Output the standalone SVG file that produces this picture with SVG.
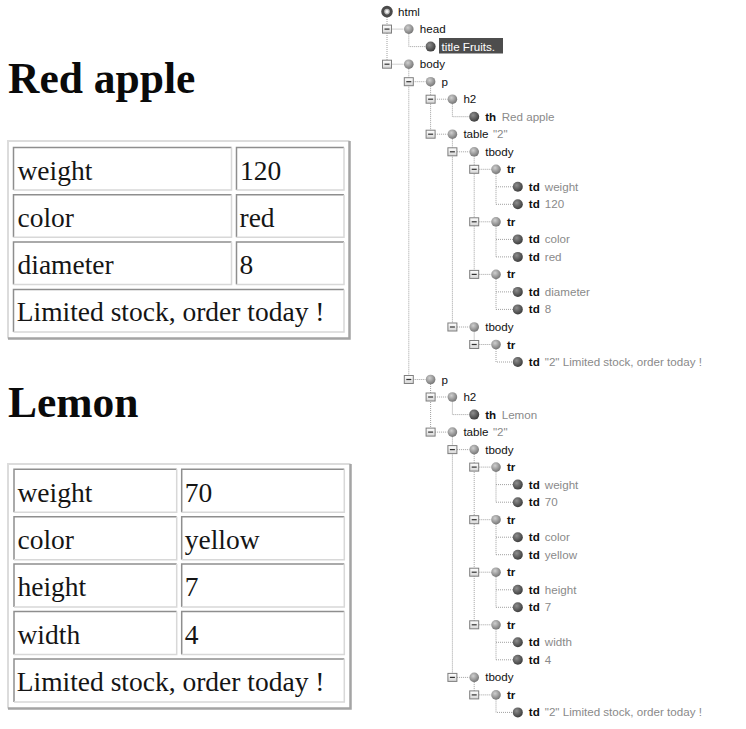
<svg xmlns="http://www.w3.org/2000/svg" xmlns:xlink="http://www.w3.org/1999/xlink" width="746" height="729" viewBox="0 0 746 729">
  <style>
    .tag { font-family: "Liberation Sans", Arial, sans-serif; font-size: 11.6px; fill: #111; }
    .b { font-weight: bold; }
    .val { fill: #8a8a8a; font-weight: normal; }
    .sel { fill: #ffffff; }
    .hd { font-family: "Liberation Serif", "Times New Roman", serif; font-weight: bold; font-size: 43.5px; fill: #0a0a0a; }
    .cell { font-family: "Liberation Serif", "Times New Roman", serif; font-size: 27.5px; fill: #151515; }
    .dk { fill: none; stroke: #8e8e8e; stroke-width: 1.5; }
    .lt { fill: none; stroke: #d8d8d8; stroke-width: 1.5; }
    .olt { fill: none; stroke: #dcdcdc; stroke-width: 2; }
    .odk { fill: none; stroke: #a4a4a4; stroke-width: 2.5; }
    .conn { fill: none; stroke: #a0a0a0; stroke-width: 1; stroke-dasharray: 1 1; }
  </style>
  <defs>
    <radialGradient id="gLeaf" cx="0.38" cy="0.35" r="0.7">
      <stop offset="0" stop-color="#8e8e8e"/>
      <stop offset="1" stop-color="#383838"/>
    </radialGradient>
    <radialGradient id="gNode" cx="0.4" cy="0.35" r="0.7">
      <stop offset="0" stop-color="#cfcfcf"/>
      <stop offset="1" stop-color="#707070"/>
    </radialGradient>
    <linearGradient id="gBox" x1="0" y1="0" x2="0" y2="1">
      <stop offset="0" stop-color="#ffffff"/>
      <stop offset="1" stop-color="#d6d6d6"/>
    </linearGradient>
    <g id="leaf"><circle r="5" fill="url(#gLeaf)"/></g>
    <g id="node"><circle r="4.8" fill="url(#gNode)"/></g>
    <g id="root">
      <circle r="4.3" fill="#bdbdbd" stroke="#4a4a4a" stroke-width="3"/>
      <circle r="1.5" fill="#f4f4f4"/>
    </g>
    <g id="minus">
      <rect x="-4.5" y="-4" width="9" height="8" fill="url(#gBox)" stroke="#7e7e7e" stroke-width="1"/>
      <line x1="-2.5" y1="0" x2="2.5" y2="0" stroke="#333" stroke-width="1.2"/>
    </g>
  </defs>

  <rect width="746" height="729" fill="#ffffff"/>

  <!-- Rendered page: first fruit -->
  <g id="page-apple">
    <text class="hd" x="8" y="93.3">Red apple</text>
    <g id="table-apple">
      <path class="olt" d="M8 338.5 V141 H349.5"/>
      <path class="odk" d="M349.5 141 V338.5 H8"/>
      <path class="dk" d="M13.5 190 V147.5 H231.5"/><path class="lt" d="M231.5 147.5 V190 H13.5"/>
      <path class="dk" d="M236.5 190 V147.5 H344"/><path class="lt" d="M344 147.5 V190 H236.5"/>
      <path class="dk" d="M13.5 237.3 V194.8 H231.5"/><path class="lt" d="M231.5 194.8 V237.3 H13.5"/>
      <path class="dk" d="M236.5 237.3 V194.8 H344"/><path class="lt" d="M344 194.8 V237.3 H236.5"/>
      <path class="dk" d="M13.5 284.6 V242.1 H231.5"/><path class="lt" d="M231.5 242.1 V284.6 H13.5"/>
      <path class="dk" d="M236.5 284.6 V242.1 H344"/><path class="lt" d="M344 242.1 V284.6 H236.5"/>
      <path class="dk" d="M13.5 331.9 V289.4 H344"/><path class="lt" d="M344 289.4 V331.9 H13.5"/>
      <text class="cell" x="17.5" y="179.5">weight</text>
      <text class="cell" x="240" y="179.5">120</text>
      <text class="cell" x="17.5" y="226.8">color</text>
      <text class="cell" x="239.5" y="226.8">red</text>
      <text class="cell" x="17.5" y="274.1">diameter</text>
      <text class="cell" x="239.5" y="274.1">8</text>
      <text class="cell" x="16.7" y="321.4">Limited stock, order today !</text>
    </g>
  </g>

  <!-- Rendered page: second fruit -->
  <g id="page-lemon">
    <text class="hd" x="8" y="417.3">Lemon</text>
    <g id="table-lemon">
      <path class="olt" d="M8 708.5 V464 H350.5"/>
      <path class="odk" d="M350.5 464 V708.5 H8"/>
      <path class="dk" d="M14 512.3 V469.3 H176.7"/><path class="lt" d="M176.7 469.3 V512.3 H14"/>
      <path class="dk" d="M181.7 512.3 V469.3 H344.3"/><path class="lt" d="M344.3 469.3 V512.3 H181.7"/>
      <path class="dk" d="M14 559.7 V516.7 H176.7"/><path class="lt" d="M176.7 516.7 V559.7 H14"/>
      <path class="dk" d="M181.7 559.7 V516.7 H344.3"/><path class="lt" d="M344.3 516.7 V559.7 H181.7"/>
      <path class="dk" d="M14 607.1 V564.1 H176.7"/><path class="lt" d="M176.7 564.1 V607.1 H14"/>
      <path class="dk" d="M181.7 607.1 V564.1 H344.3"/><path class="lt" d="M344.3 564.1 V607.1 H181.7"/>
      <path class="dk" d="M14 654.5 V611.5 H176.7"/><path class="lt" d="M176.7 611.5 V654.5 H14"/>
      <path class="dk" d="M181.7 654.5 V611.5 H344.3"/><path class="lt" d="M344.3 611.5 V654.5 H181.7"/>
      <path class="dk" d="M14 701.9 V658.9 H344.3"/><path class="lt" d="M344.3 658.9 V701.9 H14"/>
      <text class="cell" x="17.5" y="501.5">weight</text>
      <text class="cell" x="184.7" y="501.5">70</text>
      <text class="cell" x="17.5" y="548.9">color</text>
      <text class="cell" x="184.7" y="548.9">yellow</text>
      <text class="cell" x="17.5" y="596.3">height</text>
      <text class="cell" x="184.7" y="596.3">7</text>
      <text class="cell" x="17.5" y="643.7">width</text>
      <text class="cell" x="184.7" y="643.7">4</text>
      <text class="cell" x="16.7" y="690.9">Limited stock, order today !</text>
    </g>
  </g>

  <!-- DOM tree: dotted connectors -->
  <g id="connectors" class="conn">
    <path d="M387 17 V64.2"/>
    <path d="M391.5 29.1 H403.8 M391.5 64.2 H403.8"/>
    <path d="M408.8 33.6 V46.6 H425.6"/>
    <path d="M408.8 68.7 V379.5"/>
    <path d="M413.3 81.7 H425.6 M413.3 379.5 H425.6"/>
    <path d="M430.6 86.2 V134.2 M435.1 99.2 H447.4 M435.1 134.2 H447.4"/>
    <path d="M452.4 103.7 V116.7 H469.2"/>
    <path d="M452.4 138.7 V327 M456.9 151.8 H469.2 M456.9 327 H469.2"/>
    <path d="M474.2 156.3 V274.4 M478.7 169.3 H491 M478.7 221.8 H491 M478.7 274.4 H491"/>
    <path d="M496 173.8 V204.3 M496 186.8 H512.8 M496 204.3 H512.8"/>
    <path d="M496 226.3 V256.9 M496 239.4 H512.8 M496 256.9 H512.8"/>
    <path d="M496 278.9 V309.4 M496 291.9 H512.8 M496 309.4 H512.8"/>
    <path d="M474.2 331.5 V344.5 M478.7 344.5 H491"/>
    <path d="M496 349 V362 H512.8"/>
    <path d="M430.6 384 V432.1 M435.1 397 H447.4 M435.1 432.1 H447.4"/>
    <path d="M452.4 401.5 V414.6 H469.2"/>
    <path d="M452.4 436.6 V677.4 M456.9 449.6 H469.2 M456.9 677.4 H469.2"/>
    <path d="M474.2 454.1 V624.8 M478.7 467.1 H491 M478.7 519.7 H491 M478.7 572.2 H491 M478.7 624.8 H491"/>
    <path d="M496 471.6 V502.2 M496 484.6 H512.8 M496 502.2 H512.8"/>
    <path d="M496 524.2 V554.7 M496 537.2 H512.8 M496 554.7 H512.8"/>
    <path d="M496 576.7 V607.3 M496 589.8 H512.8 M496 607.3 H512.8"/>
    <path d="M496 629.3 V659.8 M496 642.3 H512.8 M496 659.8 H512.8"/>
    <path d="M474.2 681.9 V694.9 M478.7 694.9 H491"/>
    <path d="M496 699.4 V712.4 H512.8"/>
  </g>

  <!-- DOM tree: expand/collapse boxes -->
  <g id="toggles">
    <use href="#minus" x="387" y="29.1"/>
    <use href="#minus" x="387" y="64.2"/>
    <use href="#minus" x="408.8" y="81.7"/>
    <use href="#minus" x="430.6" y="99.2"/>
    <use href="#minus" x="430.6" y="134.2"/>
    <use href="#minus" x="452.4" y="151.8"/>
    <use href="#minus" x="474.2" y="169.3"/>
    <use href="#minus" x="474.2" y="221.8"/>
    <use href="#minus" x="474.2" y="274.4"/>
    <use href="#minus" x="452.4" y="327"/>
    <use href="#minus" x="474.2" y="344.5"/>
    <use href="#minus" x="408.8" y="379.5"/>
    <use href="#minus" x="430.6" y="397"/>
    <use href="#minus" x="430.6" y="432.1"/>
    <use href="#minus" x="452.4" y="449.6"/>
    <use href="#minus" x="474.2" y="467.1"/>
    <use href="#minus" x="474.2" y="519.7"/>
    <use href="#minus" x="474.2" y="572.2"/>
    <use href="#minus" x="474.2" y="624.8"/>
    <use href="#minus" x="452.4" y="677.4"/>
    <use href="#minus" x="474.2" y="694.9"/>
  </g>

  <!-- DOM tree: nodes -->
  <g id="n-html" transform="translate(387,11.6)"><use href="#root"/><text class="tag" x="11" y="4">html</text></g>
  <g id="n-head" transform="translate(408.8,29.1)"><use href="#node"/><text class="tag" x="11" y="4">head</text></g>
  <g id="n-title" transform="translate(430.6,46.6)"><rect x="8.4" y="-8.6" width="64" height="15.5" fill="#4d4d4d"/><use href="#leaf"/><text class="tag sel" x="11" y="4">title Fruits.</text></g>
  <g id="n-body" transform="translate(408.8,64.2)"><use href="#node"/><text class="tag" x="11" y="4">body</text></g>

  <g id="n-p1" transform="translate(430.6,81.7)"><use href="#node"/><text class="tag" x="11" y="4">p</text></g>
  <g id="n-h2-1" transform="translate(452.4,99.2)"><use href="#node"/><text class="tag" x="11" y="4">h2</text></g>
  <g id="n-th-1" transform="translate(474.2,116.7)"><use href="#leaf"/><text class="tag b" x="11" y="4">th</text><text class="tag val" x="27.5" y="4">Red apple</text></g>
  <g id="n-table-1" transform="translate(452.4,134.2)"><use href="#node"/><text class="tag" x="11" y="4">table</text><text class="tag val" x="40.5" y="4">"2"</text></g>
  <g id="n-tbody-1a" transform="translate(474.2,151.8)"><use href="#node"/><text class="tag" x="11" y="4">tbody</text></g>
  <g id="n-tr-1a" transform="translate(496,169.3)"><use href="#node"/><text class="tag b" x="11" y="4">tr</text></g>
  <g id="n-td-1a1" transform="translate(517.8,186.8)"><use href="#leaf"/><text class="tag b" x="11" y="4">td</text><text class="tag val" x="27" y="4">weight</text></g>
  <g id="n-td-1a2" transform="translate(517.8,204.3)"><use href="#leaf"/><text class="tag b" x="11" y="4">td</text><text class="tag val" x="27" y="4">120</text></g>
  <g id="n-tr-1b" transform="translate(496,221.8)"><use href="#node"/><text class="tag b" x="11" y="4">tr</text></g>
  <g id="n-td-1b1" transform="translate(517.8,239.4)"><use href="#leaf"/><text class="tag b" x="11" y="4">td</text><text class="tag val" x="27" y="4">color</text></g>
  <g id="n-td-1b2" transform="translate(517.8,256.9)"><use href="#leaf"/><text class="tag b" x="11" y="4">td</text><text class="tag val" x="27" y="4">red</text></g>
  <g id="n-tr-1c" transform="translate(496,274.4)"><use href="#node"/><text class="tag b" x="11" y="4">tr</text></g>
  <g id="n-td-1c1" transform="translate(517.8,291.9)"><use href="#leaf"/><text class="tag b" x="11" y="4">td</text><text class="tag val" x="27" y="4">diameter</text></g>
  <g id="n-td-1c2" transform="translate(517.8,309.4)"><use href="#leaf"/><text class="tag b" x="11" y="4">td</text><text class="tag val" x="27" y="4">8</text></g>
  <g id="n-tbody-1b" transform="translate(474.2,327)"><use href="#node"/><text class="tag" x="11" y="4">tbody</text></g>
  <g id="n-tr-1d" transform="translate(496,344.5)"><use href="#node"/><text class="tag b" x="11" y="4">tr</text></g>
  <g id="n-td-1d1" transform="translate(517.8,362)"><use href="#leaf"/><text class="tag b" x="11" y="4">td</text><text class="tag val" x="27" y="4">"2" Limited stock, order today !</text></g>

  <g id="n-p2" transform="translate(430.6,379.5)"><use href="#node"/><text class="tag" x="11" y="4">p</text></g>
  <g id="n-h2-2" transform="translate(452.4,397)"><use href="#node"/><text class="tag" x="11" y="4">h2</text></g>
  <g id="n-th-2" transform="translate(474.2,414.6)"><use href="#leaf"/><text class="tag b" x="11" y="4">th</text><text class="tag val" x="27.5" y="4">Lemon</text></g>
  <g id="n-table-2" transform="translate(452.4,432.1)"><use href="#node"/><text class="tag" x="11" y="4">table</text><text class="tag val" x="40.5" y="4">"2"</text></g>
  <g id="n-tbody-2a" transform="translate(474.2,449.6)"><use href="#node"/><text class="tag" x="11" y="4">tbody</text></g>
  <g id="n-tr-2a" transform="translate(496,467.1)"><use href="#node"/><text class="tag b" x="11" y="4">tr</text></g>
  <g id="n-td-2a1" transform="translate(517.8,484.6)"><use href="#leaf"/><text class="tag b" x="11" y="4">td</text><text class="tag val" x="27" y="4">weight</text></g>
  <g id="n-td-2a2" transform="translate(517.8,502.2)"><use href="#leaf"/><text class="tag b" x="11" y="4">td</text><text class="tag val" x="27" y="4">70</text></g>
  <g id="n-tr-2b" transform="translate(496,519.7)"><use href="#node"/><text class="tag b" x="11" y="4">tr</text></g>
  <g id="n-td-2b1" transform="translate(517.8,537.2)"><use href="#leaf"/><text class="tag b" x="11" y="4">td</text><text class="tag val" x="27" y="4">color</text></g>
  <g id="n-td-2b2" transform="translate(517.8,554.7)"><use href="#leaf"/><text class="tag b" x="11" y="4">td</text><text class="tag val" x="27" y="4">yellow</text></g>
  <g id="n-tr-2c" transform="translate(496,572.2)"><use href="#node"/><text class="tag b" x="11" y="4">tr</text></g>
  <g id="n-td-2c1" transform="translate(517.8,589.8)"><use href="#leaf"/><text class="tag b" x="11" y="4">td</text><text class="tag val" x="27" y="4">height</text></g>
  <g id="n-td-2c2" transform="translate(517.8,607.3)"><use href="#leaf"/><text class="tag b" x="11" y="4">td</text><text class="tag val" x="27" y="4">7</text></g>
  <g id="n-tr-2d" transform="translate(496,624.8)"><use href="#node"/><text class="tag b" x="11" y="4">tr</text></g>
  <g id="n-td-2d1" transform="translate(517.8,642.3)"><use href="#leaf"/><text class="tag b" x="11" y="4">td</text><text class="tag val" x="27" y="4">width</text></g>
  <g id="n-td-2d2" transform="translate(517.8,659.8)"><use href="#leaf"/><text class="tag b" x="11" y="4">td</text><text class="tag val" x="27" y="4">4</text></g>
  <g id="n-tbody-2b" transform="translate(474.2,677.4)"><use href="#node"/><text class="tag" x="11" y="4">tbody</text></g>
  <g id="n-tr-2e" transform="translate(496,694.9)"><use href="#node"/><text class="tag b" x="11" y="4">tr</text></g>
  <g id="n-td-2e1" transform="translate(517.8,712.4)"><use href="#leaf"/><text class="tag b" x="11" y="4">td</text><text class="tag val" x="27" y="4">"2" Limited stock, order today !</text></g>
</svg>
